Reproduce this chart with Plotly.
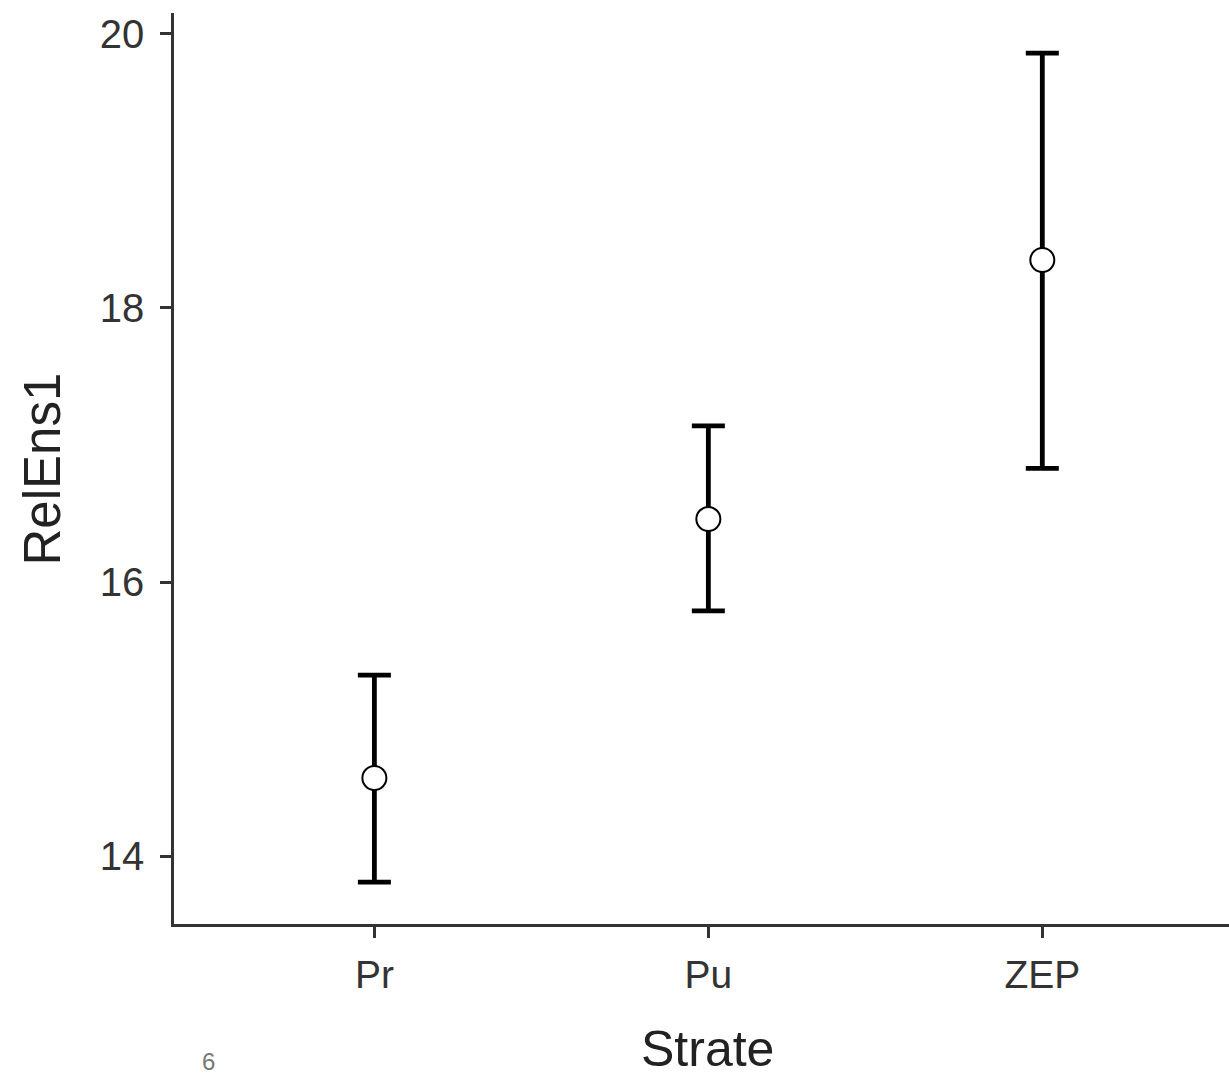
import plotly.graph_objects as go

categories = ["Pr", "Pu", "ZEP"]
means = [14.57, 16.46, 18.35]
upper = [15.32, 17.14, 19.86]
lower = [13.81, 15.79, 16.83]
y_ticks = [14, 16, 18, 20]

err_plus = [u - m for u, m in zip(upper, means)]
err_minus = [m - l for m, l in zip(means, lower)]

W, H = 1229, 1078
ML, MR, MT, MB = 174, 0, 13, 154
FONT = "Liberation Sans, Arial, sans-serif"

fig = go.Figure()
fig.add_trace(go.Scatter(
    x=categories, y=means, mode="markers",
    marker=dict(size=24, color="white", line=dict(color="black", width=2)),
    error_y=dict(type="data", symmetric=False, array=err_plus, arrayminus=err_minus,
                 color="black", thickness=4.8, width=16.5),
    showlegend=False,
))

fig.update_layout(
    width=W, height=H,
    margin=dict(l=ML, r=MR, t=MT, b=MB, pad=0),
    paper_bgcolor="white", plot_bgcolor="white",
    font=dict(family=FONT, color="#333333"),
    xaxis=dict(
        type="category", range=[-0.6, 2.559],
        showline=True, linecolor="#333333", linewidth=2.5,
        ticks="outside", ticklen=11, tickwidth=2.5, tickcolor="#333333",
        tickfont=dict(size=39, color="#333333"), ticklabelstandoff=3,
        showgrid=False, zeroline=False,
    ),
    yaxis=dict(
        range=[13.504, 20.153], tickvals=y_ticks,
        showline=True, linecolor="#333333", linewidth=2.5,
        ticks="outside", ticklen=11, tickwidth=2.5, tickcolor="#333333",
        tickfont=dict(size=40, color="#333333"), ticklabelstandoff=8,
        showgrid=False, zeroline=False,
    ),
    annotations=[
        dict(text="Strate", xref="paper", yref="paper", x=0.506, y=-0.1375,
             xanchor="center", yanchor="middle", showarrow=False,
             font=dict(size=50, color="#222222", family=FONT)),
        dict(text="RelEns1", xref="paper", yref="paper", x=-0.1242, y=0.5,
             xanchor="center", yanchor="middle", textangle=-90, showarrow=False,
             font=dict(size=51, color="#222222", family=FONT)),
        dict(text="6", xref="paper", yref="paper", x=(208 - ML) / (W - ML - MR),
             y=-(1061 - (H - MB)) / (H - MT - MB),
             xanchor="center", yanchor="middle", showarrow=False,
             font=dict(size=24, color="#777777", family=FONT)),
    ],
)

fig.write_html("out.html")
